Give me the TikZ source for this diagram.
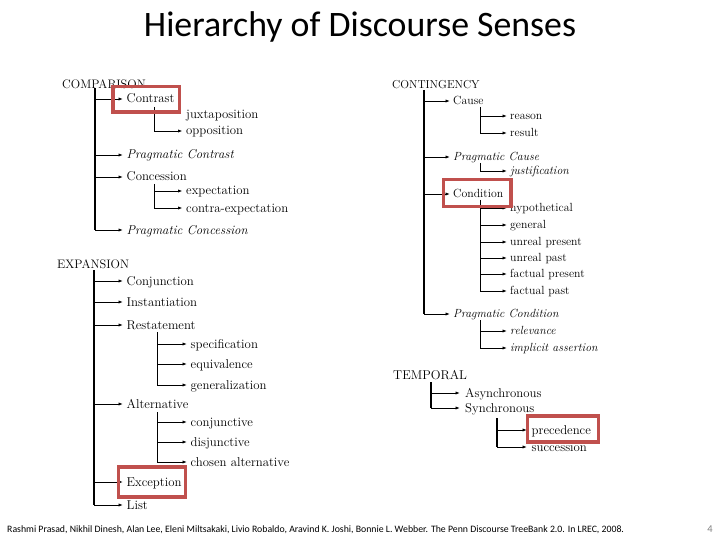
\documentclass[tikz,border=0pt]{standalone}
\usepackage{fontspec}
\newfontfamily\calibri{Carlito}
\usetikzlibrary{arrows.meta}
\definecolor{boxred}{HTML}{C0504D}
\begin{document}
\begin{tikzpicture}[x=1pt,y=-1pt,
  lbl/.style={anchor=west,inner xsep=3.5pt,inner ysep=0pt,text height=9pt,text depth=1pt,font=\fontsize{12.8}{14}\selectfont},
  lblc/.style={lbl,inner xsep=3pt,text height=8.5pt,font=\fontsize{11.8}{13}\selectfont},
  head/.style={anchor=west,inner sep=0pt,text height=9pt,text depth=1pt,font=\fontsize{12.3}{14}\selectfont},
  headc/.style={head,font=\fontsize{11.5}{13}\selectfont},
  arr/.style={-{Latex[length=4.5pt,width=3.2pt]},line width=0.8pt},
  trunk/.style={line width=1.2pt},
  sub/.style={line width=0.8pt},
  hl/.style={draw=boxred,line width=3.6pt}]
\useasboundingbox (0,0) rectangle (720,540);
% title and footer
\node[anchor=base,inner sep=0pt,font=\calibri\fontsize{35.8}{40}\selectfont] (title) at (360,37) {Hierarchy of Discourse Senses};
\node[anchor=base west,inner sep=0pt,font=\calibri\fontsize{9.8}{11}\selectfont] (foot) at (7,532) {Rashmi Prasad, Nikhil Dinesh, Alan Lee, Eleni Miltsakaki, Livio Robaldo, Aravind K. Joshi, Bonnie L. Webber. The Penn Discourse TreeBank 2.0. In LREC, 2008.};
\node[anchor=base east,inner sep=0pt,text=gray,font=\calibri\fontsize{10.5}{12}\selectfont] (pnum) at (713,532) {4};

% ---------------- COMPARISON ----------------
\node[head] (cmp) at (62,85) {COMPARISON};
\coordinate (ct) at (95,88);
\node[lbl] (contrast) at (123,99) {Contrast};
\node[lbl] (pcontrast) at (123,155) {\itshape Pragmatic Contrast};
\node[lbl] (concession) at (123,177) {Concession};
\node[lbl] (pconcession) at (123,230) {\itshape Pragmatic Concession};
\draw[trunk] (ct) -- (ct |- pconcession.west);
\foreach \n in {contrast,pcontrast,concession,pconcession} \draw[arr] (ct |- \n.west) -- (\n.west);
\coordinate (cs1) at (154,107);
\node[lbl] (juxta) at (182.5,115) {juxtaposition};
\node[lbl] (oppo) at (182.5,131) {opposition};
\draw[sub] (cs1) -- (cs1 |- oppo.west);
\draw[arr] (cs1 |- oppo.west) -- (oppo.west);
\coordinate (cs2) at (154,184);
\node[lbl] (expect) at (182.5,191) {expectation};
\node[lbl] (cexpect) at (182.5,208) {contra-expectation};
\draw[sub] (cs2) -- (cs2 |- cexpect.west);
\foreach \n in {expect,cexpect} \draw[arr] (cs2 |- \n.west) -- (\n.west);

% ---------------- CONTINGENCY ----------------
\node[headc] (cont) at (392,85) {CONTINGENCY};
\coordinate (gt) at (424,90);
\node[lblc] (cause) at (450,101) {Cause};
\node[lblc] (pcause) at (450,157) {\itshape Pragmatic Cause};
\node[lblc] (condition) at (450,194) {Condition};
\node[lblc] (pcondition) at (450,314) {\itshape Pragmatic Condition};
\draw[trunk] (gt) -- (gt |- pcondition.west);
\foreach \n in {cause,pcause,condition,pcondition} \draw[arr] (gt |- \n.west) -- (\n.west);
\coordinate (gs1) at (480,107);
\node[lblc] (reason) at (507,116) {reason};
\node[lblc] (result) at (507,133) {result};
\draw[sub] (gs1) -- (gs1 |- result.west);
\foreach \n in {reason,result} \draw[arr] (gs1 |- \n.west) -- (\n.west);
\coordinate (gs2) at (480,163);
\node[lblc] (justif) at (507,171) {\itshape justification};
\draw[sub] (gs2) -- (gs2 |- justif.west);
\draw[arr] (gs2 |- justif.west) -- (justif.west);
\coordinate (gs3) at (480,200);
\node[lblc] (hypo) at (507,208) {hypothetical};
\node[lblc] (general) at (507,225) {general};
\node[lblc] (upres) at (507,242) {unreal present};
\node[lblc] (upast) at (507,258) {unreal past};
\node[lblc] (fpres) at (507,274) {factual present};
\node[lblc] (fpast) at (507,291) {factual past};
\draw[sub] (gs3) -- (gs3 |- fpast.west);
\foreach \n in {hypo,general,upres,upast,fpres,fpast} \draw[arr] (gs3 |- \n.west) -- (\n.west);
\coordinate (gs4) at (480,320);
\node[lblc] (relev) at (507,331) {\itshape relevance};
\node[lblc] (impl) at (507,348) {\itshape implicit assertion};
\draw[sub] (gs4) -- (gs4 |- impl.west);
\foreach \n in {relev,impl} \draw[arr] (gs4 |- \n.west) -- (\n.west);

% ---------------- EXPANSION ----------------
\node[head] (exp) at (57,264) {EXPANSION};
\coordinate (et) at (94,270);
\node[lbl] (conj) at (123,281) {Conjunction};
\node[lbl] (inst) at (123,302) {Instantiation};
\node[lbl] (restat) at (123,325) {Restatement};
\node[lbl] (alter) at (123,404) {Alternative};
\node[lbl] (except) at (123,482) {Exception};
\node[lbl] (list) at (123,505) {List};
\draw[trunk] (et) -- (et |- list.west);
\foreach \n in {conj,inst,restat,alter,except,list} \draw[arr] (et |- \n.west) -- (\n.west);
\coordinate (es1) at (157,332);
\node[lbl] (spec) at (187,344) {specification};
\node[lbl] (equiv) at (187,364) {equivalence};
\node[lbl] (gener) at (187,385) {generalization};
\draw[sub] (es1) -- (es1 |- gener.west);
\foreach \n in {spec,equiv,gener} \draw[arr] (es1 |- \n.west) -- (\n.west);
\coordinate (es2) at (157,412);
\node[lbl] (conjv) at (187,422) {conjunctive};
\node[lbl] (disj) at (187,442) {disjunctive};
\node[lbl] (chosen) at (187,462) {chosen alternative};
\draw[sub] (es2) -- (es2 |- chosen.west);
\foreach \n in {conjv,disj,chosen} \draw[arr] (es2 |- \n.west) -- (\n.west);

% ---------------- TEMPORAL ----------------
\node[head,font=\fontsize{12.8}{14}\selectfont] (temp) at (393,375) {TEMPORAL};
\coordinate (tt) at (431,382);
\node[lbl,inner xsep=5pt] (async) at (460,393) {Asynchronous};
\node[lbl,inner xsep=5pt] (sync) at (460,408) {Synchronous};
\draw[trunk] (tt) -- (tt |- sync.west);
\foreach \n in {async,sync} \draw[arr] (tt |- \n.west) -- (\n.west);
\coordinate (ts1) at (497,418);
\node[lbl,inner xsep=4.5pt] (prec) at (527,430) {precedence};
\node[lbl,inner xsep=4.5pt] (succ) at (527,447) {succession};
\draw[trunk] (ts1) -- (ts1 |- succ.west);
\foreach \n in {prec,succ} \draw[arr] (ts1 |- \n.west) -- (\n.west);

% ---------------- highlight boxes ----------------
\draw[hl] (113,86.5) rectangle (179.5,112);
\draw[hl] (443.5,179.5) rectangle (511,206.5);
\draw[hl] (118.5,467) rectangle (185.5,497);
\draw[hl] (527.5,416) rectangle (598.5,442);
\end{tikzpicture}
\end{document}
